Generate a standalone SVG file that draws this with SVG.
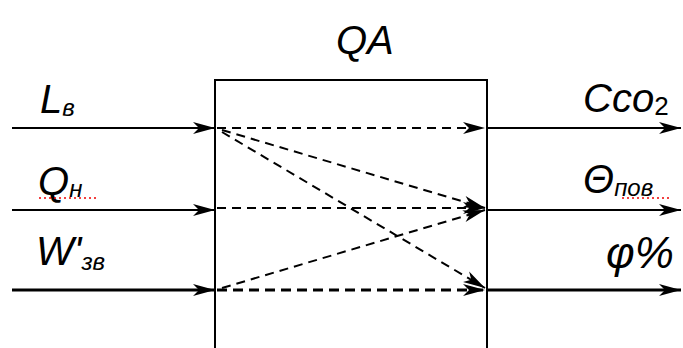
<svg xmlns="http://www.w3.org/2000/svg" width="683" height="348" viewBox="0 0 683 348">
<style>
.ln{stroke:#000;stroke-width:2;fill:none}
.thick{stroke-width:3.2}
.ds{stroke:#000;stroke-width:2;fill:none;stroke-dasharray:9 6}
.dsT{stroke-width:3;stroke-dasharray:10 6}
.t{font-family:"Liberation Sans",Arial,sans-serif;font-style:italic;fill:#000}
.sq{stroke:#e00;stroke-width:1.6;stroke-dasharray:2 3;fill:none}
</style>
<defs>
<marker id="ah" markerUnits="userSpaceOnUse" markerWidth="24" markerHeight="14" refX="22" refY="7" orient="auto" viewBox="0 0 24 14">
<path d="M0,1 L22,7 L0,13 L6,7 Z" fill="#000"/>
</marker>
</defs>
<g id="box">
<path class="ln" d="M215,348 V80 H487 V348"/>
</g>
<g id="title"><text class="t" x="336" y="54" font-size="40">QA</text></g>
<g id="connectors">
<line class="ln" x1="12" y1="128" x2="215" y2="128" marker-end="url(#ah)"/>
<line class="ln" x1="12" y1="210" x2="215" y2="210" marker-end="url(#ah)"/>
<line class="ln thick" x1="12" y1="290" x2="215" y2="290" marker-end="url(#ah)"/>
<line class="ln" x1="487" y1="128" x2="681" y2="128" marker-end="url(#ah)"/>
<line class="ln" x1="487" y1="210" x2="681" y2="210" marker-end="url(#ah)"/>
<line class="ln thick" x1="487" y1="290" x2="681" y2="290" marker-end="url(#ah)"/>
<line class="ds" x1="217" y1="128" x2="485" y2="128" marker-end="url(#ah)"/>
<line class="ds" x1="222" y1="130" x2="485" y2="208" marker-end="url(#ah)"/>
<line class="ds" x1="222" y1="132" x2="485" y2="288" marker-end="url(#ah)"/>
<line class="ds" x1="217" y1="208" x2="485" y2="208" marker-end="url(#ah)"/>
<line class="ds" x1="222" y1="288" x2="485" y2="210" marker-end="url(#ah)"/>
<line class="ds dsT" x1="217" y1="290" x2="485" y2="290" marker-end="url(#ah)"/>
</g>
<g id="labels">
<text class="t" x="40" y="113" font-size="40">L<tspan font-size="24" dy="3">в</tspan></text>
<text class="t" x="38" y="195" font-size="40">Q<tspan font-size="24" dy="2">н</tspan></text>
<path class="sq" d="M39,198 H98"/>
<text class="t" x="36" y="265" font-size="40">W'<tspan font-size="24" dy="5">зв</tspan></text>
<text class="t" x="583" y="112" font-size="40">Cco<tspan font-size="26" dy="3" font-style="normal">2</tspan></text>
<text class="t" x="583" y="193" font-size="40">Θ<tspan font-size="24" dy="3">пов</tspan></text>
<path class="sq" d="M622,198 H670"/>
<text class="t" x="606" y="268" font-size="44">φ%</text>
</g>
</svg>
